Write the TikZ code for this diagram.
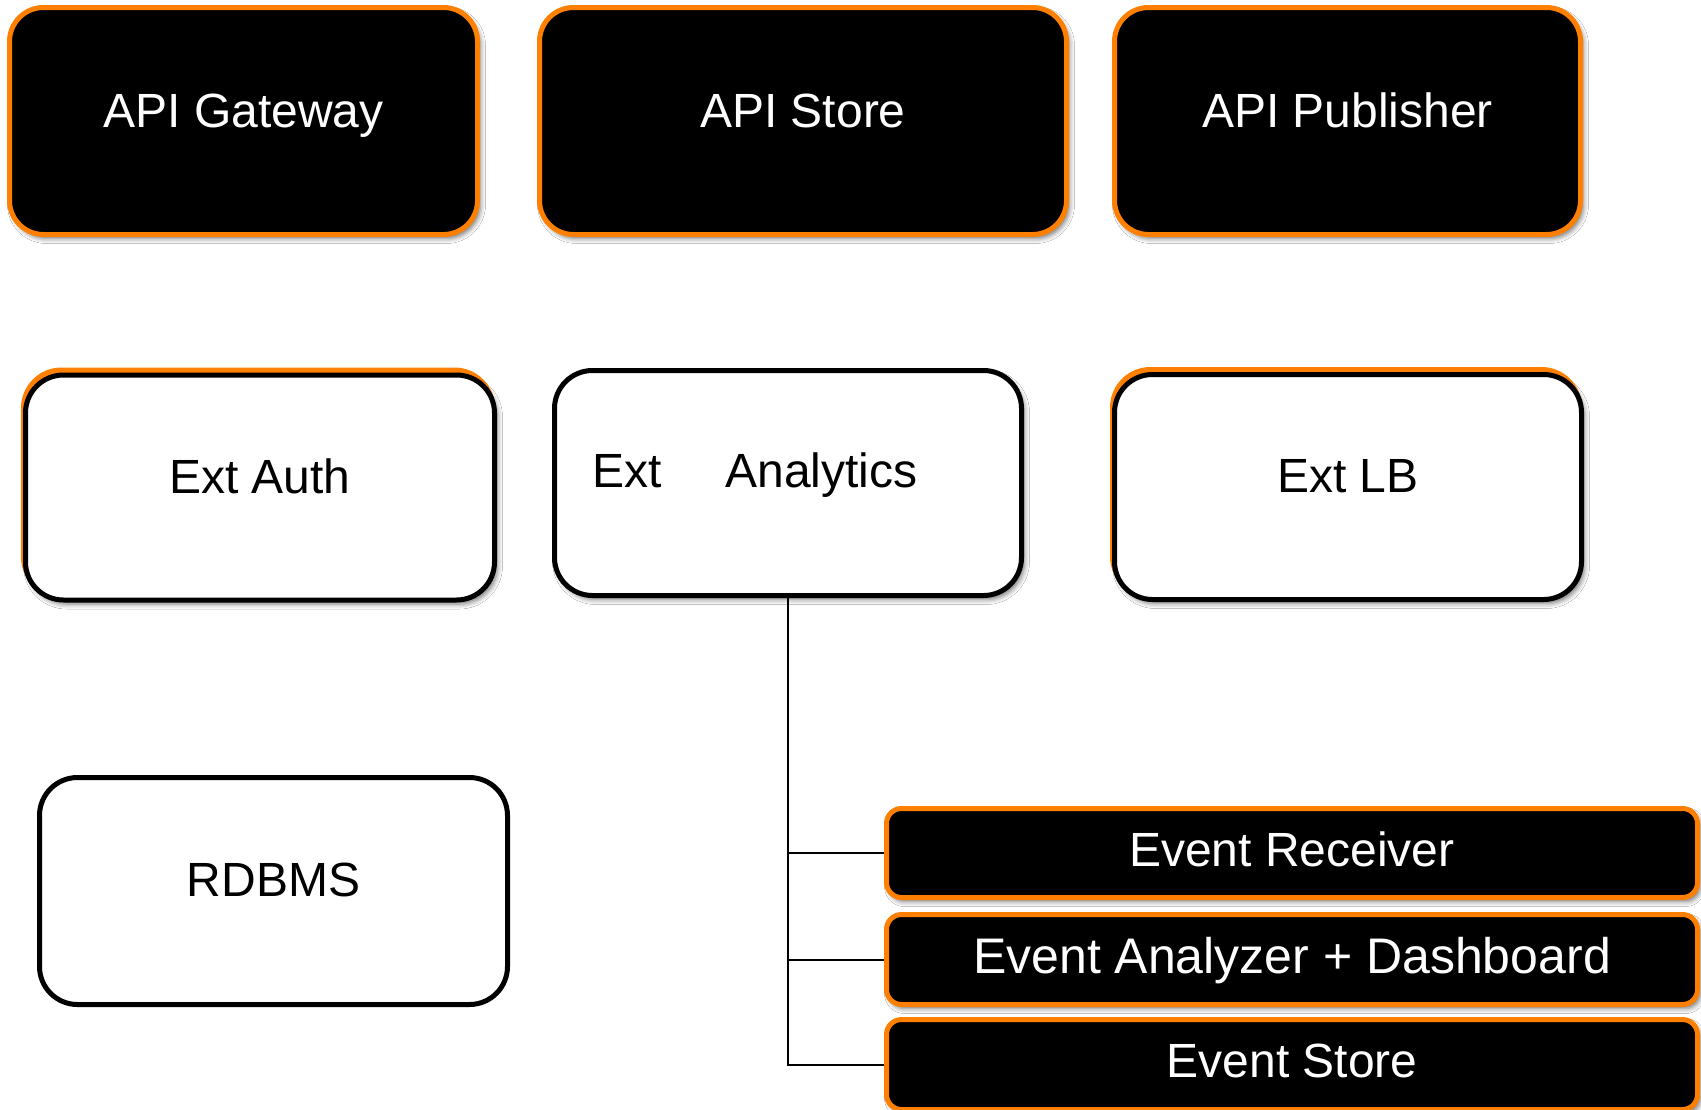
\documentclass[tikz,border=0pt]{standalone}
\usepackage{fontspec}
\setmainfont{Liberation Sans}
\usetikzlibrary{shadows.blur}
\definecolor{orng}{RGB}{255,128,0}
\begin{document}
\begin{tikzpicture}[x=1pt,y=-1pt,
  shd/.style={blur shadow={shadow xshift=3pt,shadow yshift=-4pt,shadow blur radius=5pt,shadow opacity=55}},
  bigfont/.style={font=\fontsize{48}{58}\selectfont},
  topbox/.style={shd,draw=orng,fill=black,line width=5pt,rounded corners=34pt,text=white,bigfont,
    inner sep=0pt,minimum height=227pt,text height=12pt,text depth=0pt},
  plainbox/.style={draw=black,fill=white,line width=5pt,rounded corners=38pt,bigfont,
    inner sep=0pt,minimum height=225pt,text height=11pt,text depth=0pt},
  extbox/.style={shd,plainbox},
  extback/.style={draw=orng,fill=orng,line width=5pt,rounded corners=38pt,inner sep=0pt,minimum height=225pt},
  evbox/.style={shd,draw=orng,fill=black,line width=5pt,rounded corners=15pt,text=white,bigfont,
    inner sep=0pt,minimum width=811pt,minimum height=89pt,text height=26pt,text depth=0pt},
  txt/.style={bigfont,inner sep=0pt},
  link/.style={draw=black,line width=2pt}
]
\useasboundingbox[fill=white] (0,0) rectangle (1701,1109);

% top row
\node[topbox,minimum width=468pt] (gw)  at (243.5,121) {API Gateway};
\node[topbox,minimum width=527pt] (st)  at (803,121)   {API Store};
\node[topbox,minimum width=466pt] (pub) at (1347.5,121) {API Publisher};

% middle row
\node[extback,minimum width=469pt] (authback) at (258,482.5) {};
\node[extbox,minimum width=469pt] (auth) at (260,487.5) {Ext Auth};
\node[extbox,minimum width=467pt,text height=0pt] (ana) at (788,483) {};
\node[txt,anchor=base west] (anatext) at (592,487) {Ext\hspace{64pt}Analytics};
\node[extback,minimum width=467pt] (lbback) at (1346,482) {};
\node[extbox,minimum width=467pt] (lb) at (1348,487) {Ext LB};

% bottom left
\node[plainbox,minimum width=468pt,minimum height=227pt,text height=10pt] (db) at (273.5,891) {RDBMS};

% event boxes
\node[evbox] (er) at (1292,853)    {Event Receiver};
\node[evbox,minimum height=90pt,text height=27pt,font=\fontsize{50}{60}\selectfont] (ea) at (1292,959.5) {Event Analyzer + Dashboard};
\node[evbox,minimum height=90pt] (es) at (1292,1064.5) {Event Store};

% connectors
\draw[link] (ana.south) |- (er.west);
\draw[link] (ana.south) |- (ea.west);
\draw[link] (ana.south) |- (es.west);
\end{tikzpicture}
\end{document}
